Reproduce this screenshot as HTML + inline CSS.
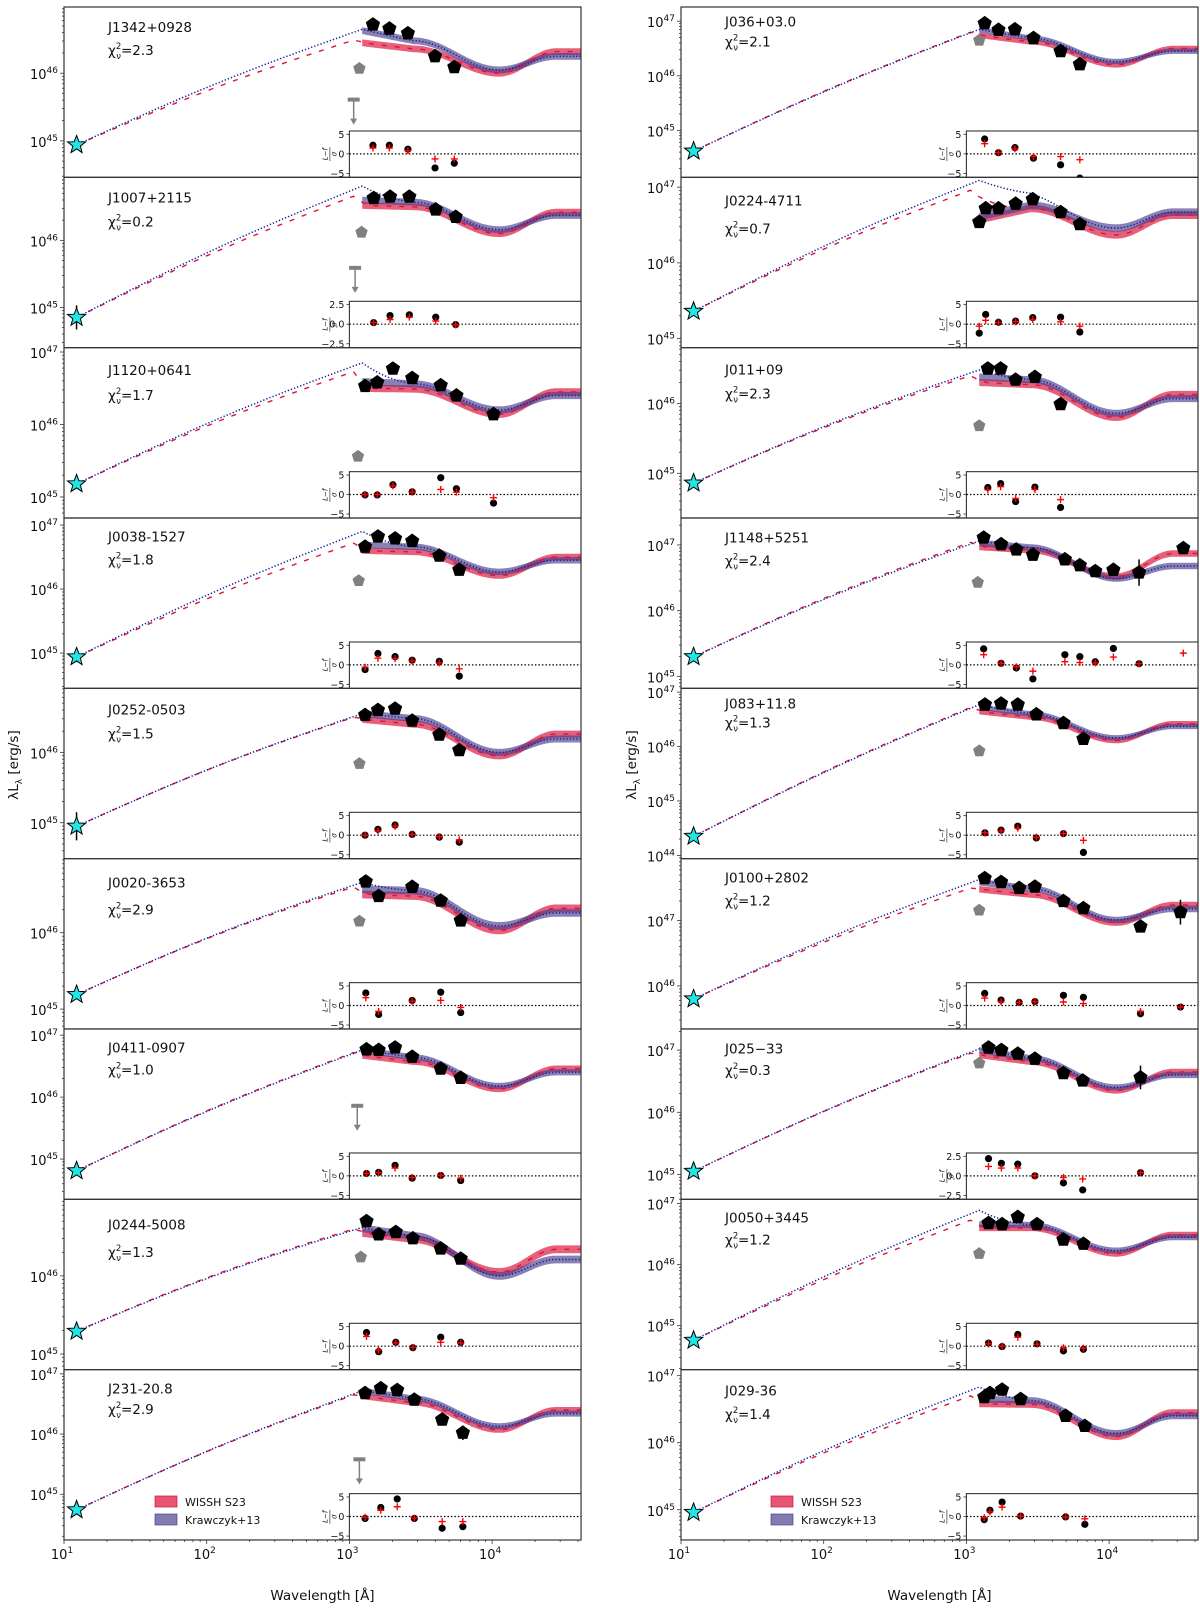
<!DOCTYPE html>
<html><head><meta charset="utf-8">
<style>
html,body{margin:0;padding:0;background:#fff;}
svg{display:block;font-family:"DejaVu Sans","Liberation Sans",sans-serif;}
</style></head>
<body>
<svg id="fig" width="1200" height="1610" viewBox="0 0 1200 1610" xmlns="http://www.w3.org/2000/svg"></svg>
<script>
// ---- data ----
const names = ["J1342+0928","J1007+2115","J1120+0641","J0038-1527","J0252-0503","J0020-3653","J0411-0907","J0244-5008","J231-20.8","J036+03.0","J0224-4711","J011+09","J1148+5251","J083+11.8","J0100+2802","J025\u221233","J0050+3445","J029-36"];
const chis = ["2.3","0.2","1.7","1.8","1.5","2.9","1.0","1.3","2.9","2.1","0.7","2.3","2.4","1.3","1.2","0.3","1.2","1.4"];
const nameRelY = [20,20,22.5,18.7,21.3,23.7,18.7,25,18.7,14.7,23,22,19.7,15.3,18.7,19.3,18.3,21];
const chiRelY = [43,44,47.5,41.3,45.3,51,40.3,52.7,39.3,34.7,51,46,42.7,34.3,42,41,40,44.3];
const yTops = [46.98,46.94,47.06,47.11,46.91,46.97,47.1,46.98,47.07,47.26,47.13,46.8,47.41,47.07,47.95,47.34,47.07,47.09];
const yBots = [44.46,44.40,44.71,44.45,44.49,44.74,44.35,44.8,44.24,44.14,44.88,44.36,44.82,43.94,45.34,44.6,44.28,44.55];
const starL = [44.94,44.85,45.18,44.94,44.95,45.19,44.81,45.29,44.74,44.62,45.36,44.86,45.3,44.35,45.8,45.05,44.76,44.96];
const starErr = [0.05,0.18,0.05,0.08,0.2,0.05,0.03,0.03,0.05,0.08,0.05,0.03,0.03,0.03,0.03,0.08,0.03,0.03];
const redPeak = [46.49,46.66,46.73,46.72,46.5,46.6,46.72,46.6,46.65,46.8,46.96,46.4,47.04,46.72,47.5,46.95,46.73,46.7];
const bluePeak = [46.65,46.81,46.85,46.9,46.55,46.66,46.76,46.62,46.72,46.85,47.09,46.48,47.06,46.77,47.63,47.02,46.89,46.83];
const blueBand = [[46.63,46.48,46.05,46.25],[46.6,46.57,46.16,46.37],[46.59,46.56,46.2,46.4],[46.69,46.66,46.27,46.45],[46.55,46.48,46.0,46.19],[46.57,46.55,46.09,46.26],[46.76,46.64,46.18,46.4],[46.61,46.51,46.0,46.21],[46.72,46.59,46.13,46.34],[46.84,46.69,46.26,46.45],[46.61,46.76,46.46,46.67],[46.38,46.34,45.86,46.07],[47.03,46.96,46.49,46.68],[46.72,46.6,46.16,46.37],[47.59,47.49,47.01,47.18],[47.0,46.87,46.4,46.6],[46.66,46.65,46.23,46.45],[46.65,46.63,46.14,46.4]];
const redBand = [[46.45,46.36,46.0,46.32],[46.52,46.5,46.1,46.42],[46.5,46.49,46.14,46.45],[46.6,46.58,46.21,46.5],[46.47,46.4,45.95,46.26],[46.5,46.48,46.03,46.32],[46.67,46.57,46.13,46.46],[46.55,46.47,46.05,46.34],[46.63,46.52,46.07,46.4],[46.74,46.62,46.2,46.5],[46.57,46.72,46.37,46.63],[46.3,46.27,45.8,46.13],[46.97,46.92,46.52,46.87],[46.64,46.54,46.11,46.42],[47.48,47.4,46.97,47.24],[46.92,46.81,46.35,46.65],[46.6,46.6,46.18,46.49],[46.58,46.57,46.09,46.45]];
const photX = [[3.165,3.28,3.41,3.6,3.735],[3.17,3.285,3.42,3.605,3.745],[3.11,3.195,3.305,3.44,3.64,3.75,4.01],[3.11,3.2,3.32,3.44,3.63,3.77],[3.11,3.2,3.32,3.44,3.63,3.77],[3.115,3.205,3.44,3.64,3.78],[3.12,3.205,3.32,3.44,3.64,3.78],[3.12,3.205,3.325,3.445,3.64,3.78],[3.11,3.22,3.335,3.455,3.65,3.795],[3.128,3.225,3.34,3.47,3.66,3.795],[3.09,3.135,3.225,3.345,3.465,3.66,3.795],[3.15,3.24,3.345,3.48,3.66],[3.121,3.243,3.35,3.466,3.69,3.795,3.903,4.03,4.21,4.52],[3.13,3.243,3.36,3.49,3.68,3.82],[3.128,3.243,3.37,3.48,3.68,3.82,4.22,4.5],[3.155,3.245,3.36,3.48,3.68,3.815,4.22],[3.155,3.25,3.36,3.495,3.68,3.82],[3.125,3.165,3.25,3.38,3.695,3.83]];
const photL = [[46.72,46.66,46.59,46.25,46.09],[46.63,46.65,46.65,46.46,46.35],[46.53,46.58,46.77,46.64,46.54,46.4,46.14],[46.66,46.82,46.79,46.75,46.52,46.3],[46.53,46.6,46.62,46.45,46.25,46.03],[46.67,46.48,46.6,46.42,46.16],[46.77,46.76,46.8,46.65,46.46,46.31],[46.7,46.53,46.56,46.48,46.35,46.22],[46.68,46.76,46.73,46.57,46.24,46.02],[46.96,46.84,46.85,46.69,46.45,46.21],[46.54,46.72,46.72,46.78,46.84,46.67,46.51],[46.5,46.5,46.34,46.38,45.99],[47.11,47.01,46.93,46.85,46.78,46.69,46.6,46.62,46.58,46.95],[46.77,46.79,46.77,46.59,46.43,46.14],[47.65,47.59,47.5,47.52,47.3,47.19,46.91,47.13],[47.04,47.0,46.94,46.86,46.63,46.51,46.56],[46.68,46.66,46.78,46.66,46.41,46.34],[46.68,46.74,46.79,46.65,46.4,46.25]];
const photErrs = [[8,5,0.12],[12,8,0.2],[14,7,0.19],[15,6,0.19]]; // [panel, point, dex]
const grayPts = [[3.07,46.07],[3.085,46.12],[3.06,45.56],[3.065,46.13],[3.07,45.84],[3.07,46.15],null,[3.08,46.24],null,[3.09,46.65],null,[3.09,45.68],[3.08,46.43],[3.09,45.92],[3.09,47.16],[3.09,46.79],[3.09,46.18],null];
const upperLims = [[3.03,45.61],[3.04,45.59],null,null,null,null,[3.055,45.86],null,[3.07,45.58],null,null,null,null,null,null,null,null,null];
const resBlack = [[2.2,2.2,1.2,-3.6,-2.4],[0.2,1.1,1.2,0.9,-0.05],[-0.1,-0.1,2.5,0.7,4.3,1.5,-2.2],[-1.2,2.9,2.1,1.2,0.9,-2.9],[0,1.5,2.6,0.2,-0.5,-1.8],[3.2,-2.3,1.3,3.4,-1.8],[0.6,0.9,2.7,-0.6,0.1,-1.2],[3.5,-1.4,1.0,-0.4,2.3,1.0],[-0.5,2.3,4.5,-0.5,-3.0,-2.6],[3.8,0.3,1.6,-1.1,-2.8,-6.2],[-2.3,2.5,0.5,0.8,1.7,1.8,-2.0],[1.8,2.8,-1.8,1.9,-3.3],[4.1,0.4,-0.8,-3.6,2.6,2.1,0.8,4.2,0.3,null],[0.6,1.3,2.3,-0.7,0.4,-4.4],[3.1,1.4,0.8,1.0,2.6,2.1,-2.1,-0.4],[2.2,1.6,1.5,0.0,-0.9,-1.8,0.4],[0.8,-0.1,3.0,0.6,-1.2,-0.8],[-0.8,1.6,3.7,0.1,-0.1,-2.0]];
const resRed = [[1.5,1.5,0.8,-1.3,-1.3],[0.2,0.6,0.9,0.4,-0.1],[0,0,2.2,0.6,1.3,0.6,-0.8],[-0.6,1.7,1.6,1.0,0.5,-1.0],[0,1.1,2.3,0.2,-0.4,-1.2],[2.0,-1.5,1.1,1.3,-0.5],[0.6,0.8,2.0,-0.4,0.1,-0.6],[2.5,-1.0,0.8,-0.3,1.0,0.8],[-0.2,1.6,2.5,-0.4,-1.3,-1.3],[2.6,0.3,1.3,-0.7,-0.7,-1.5],[-0.5,1.0,0.4,0.6,1.2,0.6,-0.5],[1.2,2.0,-1.0,1.3,-1.3],[2.6,0.4,-0.5,-1.6,0.8,0.6,0.5,2.0,0.3,3.0],[0.6,1.1,1.8,-0.5,0.4,-1.3],[1.9,1.0,0.8,1.0,0.9,0.5,-1.5,-0.4],[1.2,1.0,1.0,0.0,-0.2,-0.4,0.4],[0.6,0,2.3,0.5,-0.4,-0.5],[-0.3,1.2,2.4,0.1,-0.1,-0.6]];
const resScale = [5,2.5,5,5,5,5,5,5,5,5,5,5,5,5,5,2.5,5,5];
const bumpW = [0.4,0.4,0.4,0.4,0.4,0.4,0.4,0.4,0.4,0.4,0.85,0.4,0.4,0.4,0.4,0.4,0.4,0.4];
const redW = [0.15,0.15,0.15,0.15,0.15,0.15,0.15,0.15,0.15,0.15,0.5,0.15,0.15,0.15,0.15,0.15,0.15,0.15];
const xTickExps = [1,2,3,4];
const legendLabels = ["WISSH S23","Krawczyk+13"];

// ---- geometry ----
const NS = "http://www.w3.org/2000/svg";
const svg = document.getElementById("fig");
const colX0 = [64, 681], AXW = 517, PH = 170.33, TOP0 = 7;
const XMIN = 1, XMAX = 1 + 517/142.7;
function xS(col, lg){ return colX0[col] + (lg - XMIN) * 142.7; }
function pTop(row){ return TOP0 + row * PH; }
function yS(p, L){ const row = p % 9; return pTop(row) + (yTops[p] - L) / (yTops[p] - yBots[p]) * PH; }
function mk(tag, attrs, parent){ const e = document.createElementNS(NS, tag); for (const k in attrs) e.setAttribute(k, attrs[k]); (parent || svg).appendChild(e); return e; }
function band(c, x){
  if (x < 3.09) return c[0];
  if (x < 3.45) return c[0] + (c[1]-c[0]) * (x-3.09)/0.36;
  if (x < 4.05){ const t=(x-3.45)/0.6; return c[1] + (c[2]-c[1])*(1-Math.cos(Math.PI*t))/2; }
  if (x < 4.45){ const t=(x-4.05)/0.4; return c[2] + (c[3]-c[2])*(1-Math.cos(Math.PI*t))/2; }
  return c[3];
}
const defs = mk("defs", {});
function pentPts(cx, cy, r){ let s=[]; for(let k=0;k<5;k++){ const a=-Math.PI/2+k*2*Math.PI/5; s.push((cx+r*Math.cos(a)).toFixed(1)+","+(cy+r*Math.sin(a)).toFixed(1)); } return s.join(" "); }
function starPts(cx, cy, R, r){ let s=[]; for(let k=0;k<10;k++){ const a=-Math.PI/2+k*Math.PI/5; const rr=k%2?r:R; s.push((cx+rr*Math.cos(a)).toFixed(1)+","+(cy+rr*Math.sin(a)).toFixed(1)); } return s.join(" "); }

for (let p = 0; p < 18; p++){
  const col = p < 9 ? 0 : 1, row = p % 9;
  const x0 = colX0[col], top = pTop(row);
  const g = mk("g", {});
  
  
  const cp = mk("clipPath", {id: "cp"+p}, defs);
  mk("rect", {x: x0, y: top, width: AXW, height: PH}, cp);
  const plot = mk("g", {"clip-path": "url(#cp"+p+")"}, g);

  // bands
  const xsB = []; for (let x = 3.09; x <= XMAX + 0.001; x += 0.01) xsB.push(x);
  const bands = [[redBand[p], "rgba(220,20,60,0.68)", "wissh-band"], [blueBand[p], "rgba(72,61,139,0.65)", "krawczyk-band"]];
  for (const [c, fill, nm] of bands){
    let up = xsB.map(x => xS(col,x).toFixed(1)+","+yS(p, band(c,x)+0.05).toFixed(1));
    let dn = xsB.slice().reverse().map(x => xS(col,x).toFixed(1)+","+yS(p, band(c,x)-0.05).toFixed(1));
    const poly = mk("polygon", {points: up.concat(dn).join(" "), fill: fill, stroke: "none"}, plot);
    
    
  }
  // model lines
  const xsL = []; for (let x = 1.088; x <= XMAX + 0.001; x += 0.01) xsL.push(x);
  const R = redBand[p], B = blueBand[p];
  const curv = (x, x1) => 0.07*Math.sin(Math.PI*(x-1.088)/(x1-1.088));
  const redF = x => x <= 3.03 ? starL[p] + (redPeak[p]-starL[p])*(x-1.088)/(3.03-1.088) + curv(x,3.03) : band(R,x) + (redPeak[p]-R[0])*Math.pow(Math.max(0,1-(x-3.03)/redW[p]),2);
  const blueF = x => x <= 3.09 ? starL[p] + (bluePeak[p]-starL[p])*(x-1.088)/(3.09-1.088) + curv(x,3.09) : band(B,x) + (bluePeak[p]-B[0])*Math.pow(Math.max(0,1-(x-3.09)/bumpW[p]),2);
  const rl = mk("polyline", {points: xsL.map(x=>xS(col,x).toFixed(1)+","+yS(p,redF(x)).toFixed(1)).join(" "), fill:"none", stroke:"#dc143c", "stroke-width":1.4, "stroke-dasharray":"5,8"}, plot);
  
  
  const bl = mk("polyline", {points: xsL.map(x=>xS(col,x).toFixed(1)+","+yS(p,blueF(x)).toFixed(1)).join(" "), fill:"none", stroke:"#1c1c9c", "stroke-width":1.5, "stroke-dasharray":"1.3,2"}, plot);
  
  

  if (grayPts[p]){
    const gp = mk("polygon", {points: pentPts(xS(col,grayPts[p][0]), yS(p,grayPts[p][1]), 6.5), fill:"#808080"}, plot);
    
    
  }
  if (upperLims[p]){
    const ux = xS(col, upperLims[p][0]), uy = yS(p, upperLims[p][1]);
    const ul = mk("g", {}, plot);
    
    
    mk("rect", {x: ux-6, y: uy-2, width: 12, height: 4, fill:"#808080"}, ul);
    mk("line", {x1: ux, y1: uy, x2: ux, y2: uy+21, stroke:"#808080", "stroke-width":1.5}, ul);
    mk("polygon", {points: `${ux-3.5},${uy+19} ${ux+3.5},${uy+19} ${ux},${uy+25}`, fill:"#808080"}, ul);
  }
  for (const e of photErrs){ if (e[0] === p){
    const ex = xS(col, photX[p][e[1]]), L = photL[p][e[1]];
    mk("line", {x1: ex, y1: yS(p, L+e[2]), x2: ex, y2: yS(p, L-e[2]), stroke:"#000", "stroke-width":1.5}, plot);
  }}
  for (let i = 0; i < photX[p].length; i++){
    const pt = mk("polygon", {points: pentPts(xS(col,photX[p][i]), yS(p,photL[p][i]), 7.5), fill:"#000"}, plot);
    
    
  }
  const sx = xS(col, 1.088), sy = yS(p, starL[p]);
  mk("line", {x1:sx, y1:yS(p, starL[p]+starErr[p]), x2:sx, y2:yS(p, starL[p]-starErr[p]), stroke:"#000", "stroke-width":1.5}, plot);
  const st = mk("polygon", {points: starPts(sx, sy, 9.5, 4), fill:"#22e6e6", stroke:"#000", "stroke-width":1}, plot);
  
  

  const fr = mk("rect", {x: x0, y: top, width: AXW, height: PH, fill:"none", stroke:"#333", "stroke-width":1.2}, g);
  
  

  for (let d = Math.floor(yBots[p]); d <= Math.ceil(yTops[p]); d++){
    for (let k = 1; k <= 9; k++){
      const L = d + Math.log10(k);
      if (L < yBots[p] || L > yTops[p]) continue;
      const ty = yS(p, L);
      mk("line", {x1: x0, y1: ty, x2: x0 - (k===1?4:2), y2: ty, stroke:"#333", "stroke-width":0.8}, g);
      if (k === 1){
        const t = mk("text", {x: x0-6, y: ty+6, "text-anchor":"end", "font-size":13, fill:"#111"}, g);
        
        
        t.appendChild(document.createTextNode("10"));
        const s = mk("tspan", {dy:-6, "font-size":9}, t);
        s.textContent = String(d);
      }
    }
  }
  const nt = mk("text", {x: x0+44, y: top+nameRelY[p]+5, "font-size":13.5, fill:"#111"}, g);
  
  
  nt.textContent = names[p];
  const ct = mk("text", {x: x0+44, y: top+chiRelY[p]+5, "font-size":13.5, fill:"#111"}, g);
  
  
  ct.appendChild(document.createTextNode("\u03c7"));
  const sub = mk("tspan", {"font-size":8.5, dy:-6}, ct); sub.textContent = "2";
  const sub2 = mk("tspan", {"font-size":8.5, dx:-5, dy:10}, ct); sub2.textContent = "\u03bd";
  const eq = mk("tspan", {dy:-4}, ct); eq.textContent = "=" + chis[p];

  const ix0 = xS(col, 3.0), iy0 = top + 124, iw = x0 + AXW - ix0, ih = PH - 124;
  const sc = resScale[p], rmax = sc*1.17, rmin = -sc*1.2;
  const iyS = v => iy0 + (rmax - v)/(rmax - rmin)*ih;
  const ig = mk("g", {}, g);
  
  
  const icp = mk("clipPath", {id: "icp"+p}, defs);
  mk("rect", {x: ix0, y: iy0, width: iw, height: ih}, icp);
  mk("rect", {x: ix0, y: iy0, width: iw, height: ih, fill:"#fff", stroke:"#333", "stroke-width":1.1}, ig);
  mk("line", {x1: ix0, y1: iyS(0), x2: ix0+iw, y2: iyS(0), stroke:"#000", "stroke-width":1.2, "stroke-dasharray":"1.5,2"}, ig);
  const tickVals = sc === 5 ? [5,0,-5] : [2.5,0,-2.5];
  for (const v of tickVals){
    mk("line", {x1: ix0, y1: iyS(v), x2: ix0-3, y2: iyS(v), stroke:"#333", "stroke-width":0.8}, ig);
    const tl = mk("text", {x: ix0-5, y: iyS(v)+3.5, "text-anchor":"end", "font-size":9.5, fill:"#111"}, ig);
    
    
    tl.textContent = (sc === 5 ? String(v) : v.toFixed(1)).replace("-", "\u2212");
  }
  const yl = mk("text", {x: 0, y: 0, "text-anchor":"middle", "font-size":7, "font-style":"italic", fill:"#111", transform:`translate(${ix0-22},${iy0+ih/2}) rotate(-90)`}, ig);
  
  
  yl.textContent = "L\u2212f";
  const yl2 = mk("text", {x: 0, y: 0, "text-anchor":"middle", "font-size":7, "font-style":"italic", fill:"#111", transform:`translate(${ix0-13},${iy0+ih/2}) rotate(-90)`}, ig);
  yl2.textContent = "\u03c3";
  mk("line", {x1: ix0-19.5, y1: iy0+ih/2-7, x2: ix0-19.5, y2: iy0+ih/2+7, stroke:"#111", "stroke-width":0.6}, ig);
  const ip = mk("g", {"clip-path":"url(#icp"+p+")"}, ig);
  for (let i = 0; i < photX[p].length; i++){
    const rx = xS(col, photX[p][i]);
    if (resBlack[p][i] !== null){
      const c = mk("circle", {cx: rx, cy: iyS(resBlack[p][i]), r: 3.6, fill:"#000"}, ip);
      
      
    }
    const ry = iyS(resRed[p][i]);
    const pl = mk("path", {d:`M${rx-3.5},${ry}H${rx+3.5}M${rx},${ry-3.5}V${ry+3.5}`, stroke:"#ff0000", "stroke-width":1.4}, ip);
    
    
  }
}

for (let col = 0; col < 2; col++){
  const by = pTop(9);
  for (let d = 1; d <= 4; d++){
    for (let k = 1; k <= 9; k++){
      const lg = d + Math.log10(k);
      if (lg > XMAX) continue;
      const tx = xS(col, lg);
      mk("line", {x1: tx, y1: by, x2: tx, y2: by + (k===1?4:2), stroke:"#333", "stroke-width":0.8});
    }
  }
  for (const e of xTickExps){
    const t = mk("text", {x: xS(col,e)-2, y: by+19, "text-anchor":"middle", "font-size":13, fill:"#111"});
    
    
    t.appendChild(document.createTextNode("10"));
    const s = mk("tspan", {dy:-6, "font-size":9}, t); s.textContent = String(e);
  }
  const xt = mk("text", {x: colX0[col] + AXW/2, y: 1600, "text-anchor":"middle", "font-size":13.5, fill:"#111"});
  
  
  xt.textContent = "Wavelength [\u00c5]";
  const ytx = col === 0 ? 18 : 636;
  const yt = mk("text", {x:0, y:0, "text-anchor":"middle", "font-size":13.5, fill:"#111", transform:`translate(${ytx},765) rotate(-90)`});
  
  
  yt.appendChild(document.createTextNode("\u03bbL"));
  const ys = mk("tspan", {"font-size":9, dy:4}, yt); ys.textContent = "\u03bb";
  const yr = mk("tspan", {dy:-4}, yt); yr.textContent = " [erg/s]";

  const lx = col === 0 ? 155 : 771;
  const cols = ["rgba(220,20,60,0.72)", "rgba(72,61,139,0.68)"];
  for (let i = 0; i < 2; i++){
    const ly = 1502 + i*18;
    const le = mk("g", {});
    
    
    mk("rect", {x: lx, y: ly-6, width: 22, height: 11, fill: cols[i], stroke: cols[i], "stroke-width":1}, le);
    const lt = mk("text", {x: lx+30, y: ly+4, "font-size":11, fill:"#111"}, le);
    lt.textContent = legendLabels[i];
  }
}
</script>
</body></html>
